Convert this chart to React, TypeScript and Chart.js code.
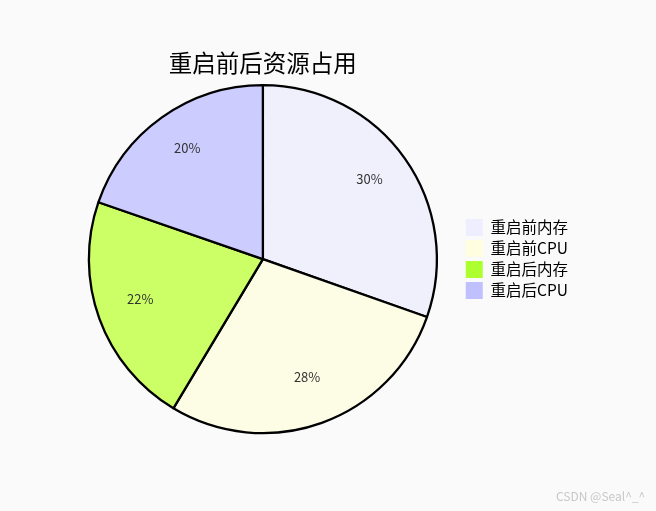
import React, { useEffect, useRef } from "react";
import { Chart, registerables } from "chart.js";

Chart.register(...registerables);

const categories = ["重启前内存", "重启前CPU", "重启后内存", "重启后CPU"];
const values = [30.4, 28.2, 21.7, 19.7];
const sliceColors = ["#f0f0fc", "#fdfde6", "#ccff66", "#ccccff"];
const legendColors = ["#eeeeff", "#ffffe0", "#adff2f", "#c0c0ff"];
const titleText = "重启前后资源占用";
const watermark = "CSDN @Seal^_^";

const FONT = "'Noto Sans CJK SC', 'Noto Sans', sans-serif";

const pctLabels = {
  id: "pctLabels",
  afterDatasetsDraw(chart: any) {
    const ctx = chart.ctx;
    const meta = chart.getDatasetMeta(0);
    const data = chart.data.datasets[0].data as number[];
    const total = data.reduce((a, b) => a + b, 0);
    ctx.save();
    ctx.font = `13px ${FONT}`;
    ctx.fillStyle = "#333333";
    ctx.textAlign = "center";
    ctx.textBaseline = "middle";
    meta.data.forEach((arc: any, i: number) => {
      const p = arc.getProps(["x", "y", "startAngle", "endAngle", "outerRadius"], true);
      const mid = (p.startAngle + p.endAngle) / 2;
      const r = p.outerRadius * 0.75;
      const px = p.x + Math.cos(mid) * r;
      const py = p.y + Math.sin(mid) * r - 5;
      ctx.fillText(Math.round((data[i] / total) * 100) + "%", px, py);
    });
    ctx.restore();
  },
};

export default function App() {
  const ref = useRef<HTMLCanvasElement>(null);
  useEffect(() => {
    if (!ref.current) return;
    const chart = new Chart(ref.current, {
      type: "pie",
      data: {
        labels: categories,
        datasets: [
          {
            data: values,
            backgroundColor: sliceColors,
            borderColor: "#000000",
            borderWidth: 2.3,
            hoverOffset: 0,
          },
        ],
      },
      options: {
        responsive: false,
        animation: false,
        devicePixelRatio: 1,
        radius: 174,
        layout: { padding: { left: 64, right: 78, top: 49, bottom: 70 } },
        plugins: {
          tooltip: { enabled: false },
          title: {
            display: true,
            text: titleText,
            fullSize: false,
            color: "#000000",
            font: { family: FONT, size: 23.5, weight: "normal" },
            padding: { top: 0, bottom: 0 },
          },
          legend: {
            display: true,
            position: "right",
            fullSize: false,
            align: "center",
            labels: {
              boxWidth: 17,
              boxHeight: 17,
              padding: 4,
              color: "#000000",
              font: { family: FONT, size: 15.5 },
              generateLabels: () =>
                categories.map((c, i) => ({
                  text: c,
                  fillStyle: legendColors[i],
                  strokeStyle: legendColors[i],
                  lineWidth: 0,
                  fontColor: "#000000",
                  hidden: false,
                  index: i,
                })),
            },
          },
        },
      } as any,
      plugins: [pctLabels],
    });
    return () => chart.destroy();
  }, []);

  return (
    <div
      style={{
        position: "fixed",
        left: 0,
        top: 0,
        width: 656,
        height: 511,
        background: "#fafafa",
      }}
    >
      <canvas ref={ref} width={656} height={511} style={{ display: "block" }} />
      <div
        style={{
          position: "absolute",
          left: 556,
          top: 487,
          fontSize: 12,
          color: "#c8c8c8",
          fontFamily: FONT,
          whiteSpace: "nowrap",
        }}
      >
        {watermark}
      </div>
    </div>
  );
}
